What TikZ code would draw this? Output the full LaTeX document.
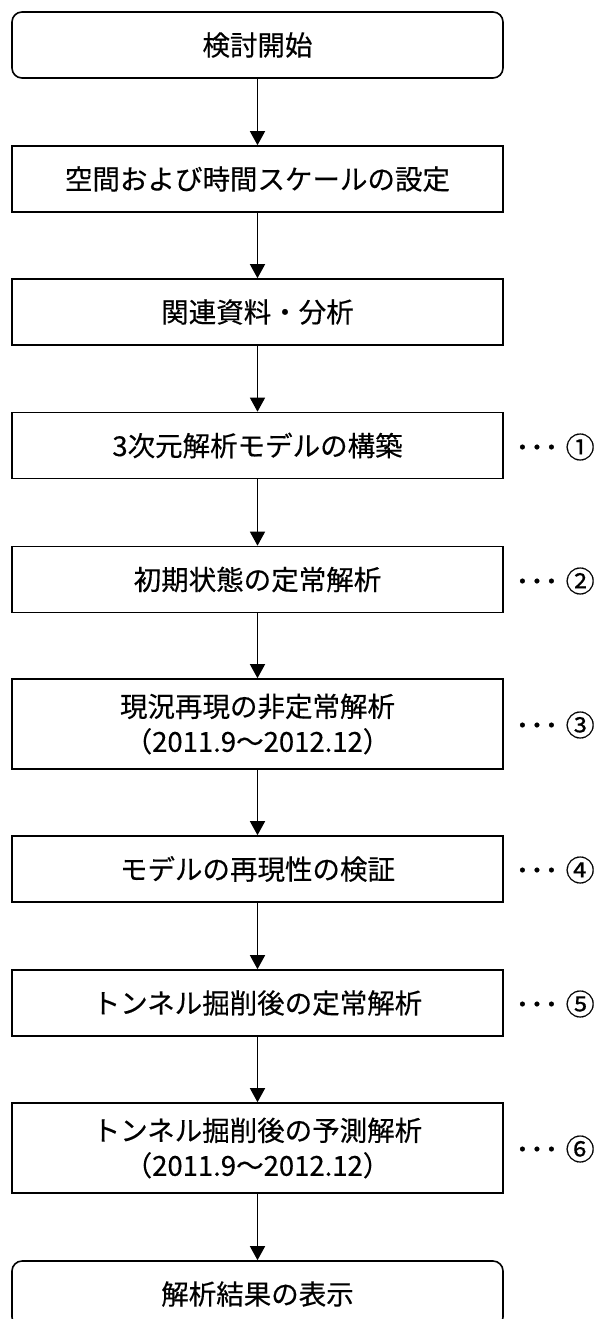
\documentclass[tikz,border=0pt]{standalone}
\usepackage{fontspec}
\newfontfamily\jp[FakeBold=0.4]{Noto Sans CJK JP}
\usetikzlibrary{arrows.meta}
\tikzset{
  stepbox/.style={draw=black, line width=1.6pt, minimum width=491pt, minimum height=66pt, inner sep=0pt, align=center, font=\jp\fontsize{27.5}{35}\selectfont},
  tallbox/.style={stepbox, minimum height=90pt},
  roundbox/.style={stepbox, rounded corners=10pt},
  flow/.style={line width=1.4pt, -{Triangle[width=15pt,length=14pt]}},
  note/.style={anchor=west, inner sep=0pt, font=\jp\fontsize{29}{30}\selectfont}
}
\begin{document}
\begin{tikzpicture}[x=1pt,y=-1pt]
\useasboundingbox (0,0) rectangle (606,1319);
\clip (0,0) rectangle (606,1319);
\node[roundbox] (b1) at (257.5,45) {検討開始};
\node[stepbox] (b2) at (257.5,179) {空間および時間スケールの設定};
\node[stepbox] (b3) at (257.5,312) {関連資料・分析};
\node[stepbox] (b4) at (257.5,445.5) {3次元解析モデルの構築};
\node[stepbox] (b5) at (257.5,579.5) {初期状態の定常解析};
\node[tallbox] (b6) at (257.5,724) {現況再現の非定常解析\\（2011.9～2012.12）};
\node[stepbox] (b7) at (257.5,869) {モデルの再現性の検証};
\node[stepbox] (b8) at (257.5,1003) {トンネル掘削後の定常解析};
\node[tallbox] (b9) at (257.5,1148) {トンネル掘削後の予測解析\\（2011.9～2012.12）};
\node[roundbox] (b10) at (257.5,1294) {解析結果の表示};
\foreach \a/\b in {b1/b2,b2/b3,b3/b4,b4/b5,b5/b6,b6/b7,b7/b8,b8/b9,b9/b10}
  \draw[flow] (\a.south) -- (\b.north);
\node[note] (l4) at (515,447) {･･･\hspace{7pt}①};
\node[note] (l5) at (515,581) {･･･\hspace{7pt}②};
\node[note] (l6) at (515,725) {･･･\hspace{7pt}③};
\node[note] (l7) at (515,870) {･･･\hspace{7pt}④};
\node[note] (l8) at (515,1004) {･･･\hspace{7pt}⑤};
\node[note] (l9) at (515,1149) {･･･\hspace{7pt}⑥};
\end{tikzpicture}
\end{document}
